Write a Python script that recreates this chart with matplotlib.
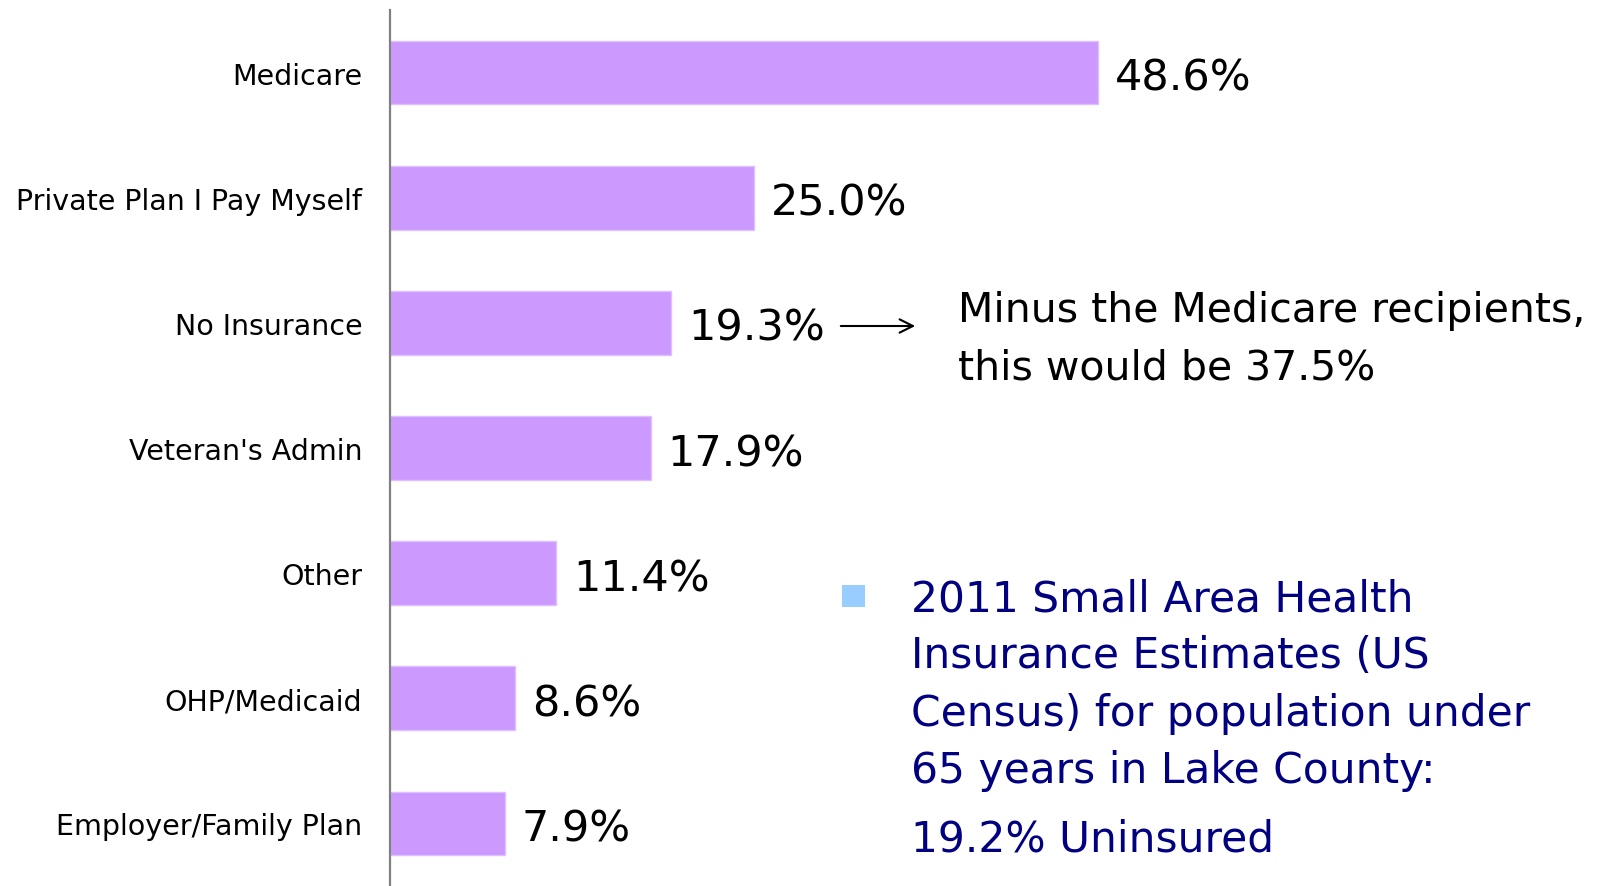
import matplotlib
matplotlib.use("Agg")
import matplotlib.pyplot as plt

# data
categories = ["Medicare", "Private Plan I Pay Myself", "No Insurance",
              "Veteran's Admin", "Other", "OHP/Medicaid", "Employer/Family Plan"]
values = [48.6, 25.0, 19.3, 17.9, 11.4, 8.6, 7.9]

note_lines = ["Minus the Medicare recipients,", "this would be 37.5%"]
census_lines = ["2011 Small Area Health", "Insurance Estimates (US",
                "Census) for population under", "65 years in Lake County:",
                "19.2% Uninsured"]

W, H = 1604, 887
plt.rcParams["font.family"] = ["DejaVu Sans"]

fig = plt.figure(figsize=(W / 100, H / 100), dpi=100)
fig.patch.set_facecolor("white")


def fx(px):
    return px / W


def fy(py):
    return 1 - py / H


ax = fig.add_axes([fx(390), 0, fx(1555) - fx(390), 1 - 11 / H])

ypos = list(range(len(categories)))
ax.barh(ypos, values, height=0.51, color="#cc99ff", edgecolor="#dcc0ff",
        linewidth=1)
ax.set_ylim(len(categories) - 0.5, -0.5)
ax.set_xlim(0, 80)

for y, v in zip(ypos, values):
    ax.text(v + 1.15, y + 0.04, f"{v:.1f}%", va="center", ha="left",
            fontsize=31, color="black")

ax.set_yticks(ypos)
ax.set_yticklabels(categories, fontsize=20.5)
ax.tick_params(axis="y", length=0, pad=20)
ax.set_xticks([])
for s in ["top", "right", "bottom"]:
    ax.spines[s].set_visible(False)
ax.spines["left"].set_color("#808080")
ax.spines["left"].set_linewidth(1.6)

# arrow + note about Medicare recipients
fig.patches.append(matplotlib.patches.FancyArrowPatch(
    (fx(838), fy(327)), (fx(918), fy(327)), transform=fig.transFigure,
    arrowstyle="->", mutation_scale=24, color="black", linewidth=1.5))
for i, line in enumerate(note_lines):
    fig.text(fx(958), fy(311 + i * 57), line, fontsize=29.5, color="black",
             va="center", ha="left")

# census bullet
fig.patches.append(matplotlib.patches.Rectangle(
    (fx(842), fy(608)), fx(23), 22 / H, transform=fig.transFigure,
    facecolor="#99ccff", edgecolor="none"))
census_y = [599, 656, 714, 771, 840]
for y, line in zip(census_y, census_lines):
    fig.text(fx(911), fy(y), line, fontsize=30.5, color="#000080",
             va="center", ha="left")

fig.savefig("out.png", dpi=100, facecolor="white")
